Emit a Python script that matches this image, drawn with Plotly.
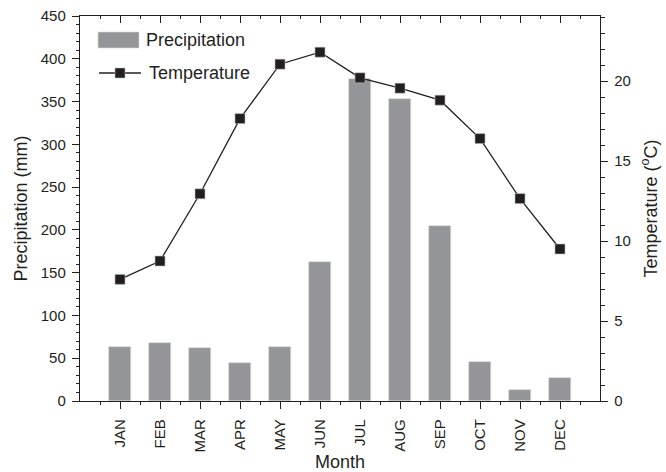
import plotly.graph_objects as go

months = ["JAN", "FEB", "MAR", "APR", "MAY", "JUN", "JUL", "AUG", "SEP", "OCT", "NOV", "DEC"]
precip = [63, 68, 62, 45, 63, 162, 376, 353, 205, 46, 13, 27]
temp = [7.6, 8.75, 12.95, 17.65, 21.05, 21.8, 20.2, 19.55, 18.8, 16.4, 12.65, 9.5]
left_ticks = [0, 50, 100, 150, 200, 250, 300, 350, 400, 450]
right_ticks = [0, 5, 10, 15, 20]

xpos = list(range(1, len(months) + 1))
font = "Liberation Sans, Arial, sans-serif"
ink = "#231f20"
bar_color = "#939598"

W, H = 666, 472
ML, MR, MT, MB = 80, 66, 16, 71
PW, PH = W - ML - MR, H - MT - MB


def px(x):
    return (x - ML) / PW


def py(y):
    return (H - MB - y) / PH


fig = go.Figure()
fig.add_trace(go.Bar(
    x=xpos, y=precip, name="Precipitation", width=0.53,
    marker=dict(color=bar_color, line=dict(color="#d6d6d6", width=0.6)),
    yaxis="y", xaxis="x", showlegend=False,
))
fig.add_trace(go.Scatter(
    x=xpos, y=temp, name="Temperature", mode="lines+markers",
    line=dict(color=ink, width=1.3),
    marker=dict(symbol="square", size=10, color=ink, line=dict(color="#bbbbbb", width=0.6)),
    yaxis="y2", xaxis="x", showlegend=False,
))
fig.add_trace(go.Scatter(x=[None], y=[None], xaxis="x2", yaxis="y", showlegend=False, hoverinfo="skip"))

axis_common = dict(showgrid=False, zeroline=False, linecolor=ink, linewidth=1.4, automargin=False,
                   tickcolor=ink, tickwidth=1.4, tickfont=dict(family=font, size=15, color=ink))
title_font = dict(family=font, size=18, color=ink)
minor_x = [i + 0.5 for i in range(0, 13)]

fig.update_layout(
    width=W, height=H,
    margin=dict(l=ML, r=MR, t=MT, b=MB, autoexpand=False),
    plot_bgcolor="white", paper_bgcolor="white",
    font=dict(family=font, color=ink),
    bargap=0,
    showlegend=False,
    xaxis=dict(
        range=[0, 13], tickmode="array", tickvals=xpos, ticktext=months,
        tickangle=-90, ticks="outside", ticklen=7, showline=True, ticklabelstandoff=4,
        minor=dict(tickvals=minor_x, ticks="outside", ticklen=3, tickcolor=ink, tickwidth=1),
        title=dict(text="Month", font=title_font, standoff=4),
        **axis_common,
    ),
    xaxis2=dict(
        range=[0, 13], overlaying="x", side="top", tickmode="array", tickvals=xpos,
        showticklabels=False, ticks="inside", ticklen=7, showline=True,
        minor=dict(tickvals=minor_x, ticks="inside", ticklen=3, tickcolor=ink, tickwidth=1),
        **axis_common,
    ),
    yaxis=dict(
        range=[0, 450], tickmode="array", tickvals=left_ticks, ticks="outside", ticklen=7,
        showline=True, ticklabelstandoff=3,
        minor=dict(dtick=10, tick0=0, ticks="outside", ticklen=3, tickcolor=ink, tickwidth=1),
        title=dict(text="Precipitation (mm)", font=title_font, standoff=8),
        **axis_common,
    ),
    yaxis2=dict(
        range=[0, PH / 16], overlaying="y", side="right", tickmode="array",
        tickvals=right_ticks, ticks="outside", ticklen=7, showline=True, ticklabelstandoff=3,
        minor=dict(dtick=1, tick0=0, ticks="outside", ticklen=4, tickcolor=ink, tickwidth=1),
        title=dict(text="Temperature (<sup>o</sup>C)", font=title_font, standoff=14),
        **axis_common,
    ),
)

# Legend drawn inside the plot (top-left), matching the reference style
shapes = [
    dict(type="rect", xref="paper", yref="paper", x0=px(98), x1=px(139), y0=py(48), y1=py(32),
         fillcolor=bar_color, line=dict(color="#d6d6d6", width=0.6)),
    dict(type="line", xref="paper", yref="paper", x0=px(99), x1=px(141), y0=py(73), y1=py(73),
         line=dict(color=ink, width=1.3)),
    dict(type="rect", xref="paper", yref="paper", x0=px(115), x1=px(125), y0=py(78), y1=py(68),
         fillcolor=ink, line=dict(color="#bbbbbb", width=0.6)),
]
annotations = [
    dict(text="Precipitation", xref="paper", yref="paper", x=px(144), y=py(40),
         xanchor="left", yanchor="middle", showarrow=False, font=dict(family=font, size=18, color=ink)),
    dict(text="Temperature", xref="paper", yref="paper", x=px(147), y=py(73),
         xanchor="left", yanchor="middle", showarrow=False, font=dict(family=font, size=18, color=ink)),
]
fig.update_layout(shapes=shapes, annotations=annotations)

fig.write_html("out.html")
